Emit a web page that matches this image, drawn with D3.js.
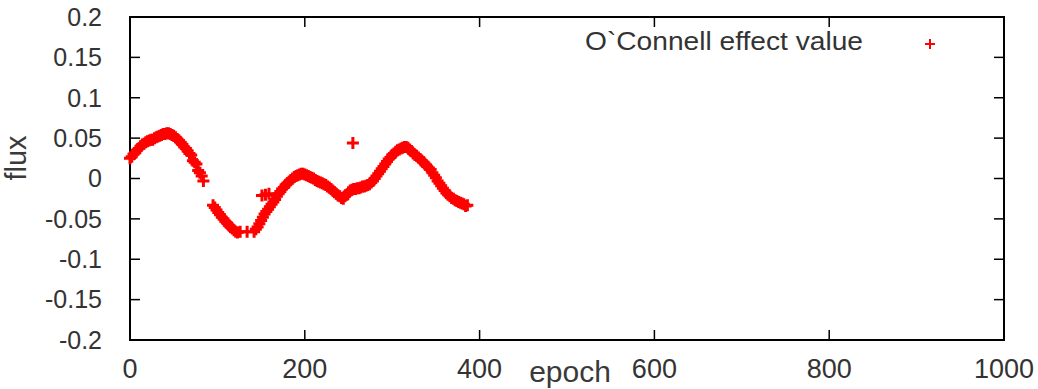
<!DOCTYPE html>
<html><head><meta charset="utf-8">
<script src="https://cdn.jsdelivr.net/npm/d3@7"></script>
<style>body{margin:0;background:#fff}svg{display:block}text{font-family:"Liberation Sans",Arial,sans-serif}</style>
</head><body><svg id="c" width="1038" height="389"></svg>
<script>
const xTicks = [0, 200, 400, 600, 800, 1000];
const yTicks = [0.2, 0.15, 0.1, 0.05, 0, -0.05, -0.1, -0.15, -0.2];
const yTickLabels = ["0.2", "0.15", "0.1", "0.05", "0", "-0.05", "-0.1", "-0.15", "-0.2"];
const seriesName = "O`Connell effect value";
const epoch = [
 0,2,4,6,8,10,12,14,16,18,20,22,24,26,28,30,32,34,36,38,40,42,44,46,48,50,52,54,56,58,60,62,64,66,68,70,72,74,76,78,80,82,84,
 95,97,99,101,103,105,107,109,111,113,115,117,119,121,123,126,134,142,
 144,146,148,150,151,152,154,155,156,158,159,160,162,164,166,168,170,172,174,176,178,180,182,184,186,188,190,192,194,196,198,
 200,202,204,206,208,210,212,214,216,218,220,222,224,226,228,230,232,234,236,238,240,242,244,246,248,250,252,254,255,256,258,
 260,262,264,266,268,270,272,274,276,278,280,282,284,286,288,290,292,294,296,298,300,302,304,306,308,310,312,314,316,318,
 320,322,324,326,328,330,332,334,336,338,340,342,344,346,348,350,352,354,356,358,360,362,364,366,368,370,372,374,376,378,380,382,384,386
];
const flux = [
 0.025,0.027,0.030,0.032,0.035,0.037,0.040,0.042,0.043,0.045,0.046,0.047,0.048,0.048,0.050,0.051,0.052,0.053,0.054,0.055,0.055,0.056,0.056,0.055,0.054,0.053,0.051,0.049,0.047,0.045,0.042,0.039,0.037,0.034,0.031,0.029,0.022,0.020,0.018,0.010,0.007,0.003,-0.003,
 -0.033,-0.036,-0.039,-0.042,-0.045,-0.048,-0.050,-0.053,-0.055,-0.058,-0.060,-0.062,-0.064,-0.066,-0.067,-0.066,-0.066,-0.066,
 -0.063,-0.060,-0.056,-0.052,-0.021,-0.048,-0.044,-0.020,-0.041,-0.038,-0.019,-0.035,-0.032,-0.029,-0.026,-0.022,-0.019,-0.016,-0.013,-0.011,-0.008,-0.006,-0.004,-0.002,0.000,0.002,0.003,0.004,0.005,0.006,0.006,
 0.005,0.004,0.003,0.002,0.001,0.000,-0.002,-0.003,-0.004,-0.005,-0.006,-0.007,-0.008,-0.010,-0.011,-0.013,-0.015,-0.017,-0.019,-0.021,-0.022,-0.024,-0.025,-0.022,-0.020,-0.017,-0.015,-0.014,0.044,-0.013,-0.013,
 -0.012,-0.012,-0.011,-0.010,-0.010,-0.009,-0.008,-0.007,-0.005,-0.003,0.000,0.003,0.006,0.009,0.012,0.015,0.018,0.021,0.024,0.026,0.029,0.031,0.033,0.035,0.036,0.037,0.038,0.039,0.039,0.038,
 0.036,0.034,0.031,0.029,0.028,0.026,0.024,0.022,0.020,0.017,0.015,0.013,0.011,0.007,0.004,0.001,-0.003,-0.006,-0.009,-0.012,-0.015,-0.018,-0.020,-0.022,-0.024,-0.025,-0.027,-0.028,-0.029,-0.030,-0.031,-0.032,-0.034,-0.033
];

const svg = d3.select("#c");
const L = 130, R = 1004, T = 17, B = 340;
const x = d3.scaleLinear().domain([0, 1000]).range([L, R]);
const y = d3.scaleLinear().domain([-0.2, 0.2]).range([B, T]);
const tickLen = 10;

// ticks (all four sides, inward)
const g = svg.append("g").attr("stroke", "#000").attr("stroke-width", 1.5);
xTicks.forEach(v => {
  g.append("line").attr("x1", x(v)).attr("x2", x(v)).attr("y1", B).attr("y2", B - tickLen);
  g.append("line").attr("x1", x(v)).attr("x2", x(v)).attr("y1", T).attr("y2", T + tickLen);
});
yTicks.forEach(v => {
  g.append("line").attr("x1", L).attr("x2", L + tickLen).attr("y1", y(v)).attr("y2", y(v));
  g.append("line").attr("x1", R).attr("x2", R - tickLen).attr("y1", y(v)).attr("y2", y(v));
});
svg.append("rect").attr("x", L).attr("y", T).attr("width", R - L).attr("height", B - T)
  .attr("fill", "none").attr("stroke", "#000").attr("stroke-width", 2);

// tick labels
svg.append("g").selectAll("text").data(xTicks).join("text")
  .attr("x", d => x(d)).attr("y", 378).attr("text-anchor", "middle")
  .attr("font-size", 27).attr("fill", "#333").text(d => d);
svg.append("g").selectAll("text").data(yTicks).join("text")
  .attr("x", 102).attr("y", d => y(d)).attr("dy", "0.35em").attr("text-anchor", "end")
  .attr("font-size", 25).attr("fill", "#333").text((d, i) => yTickLabels[i]);

// axis titles
svg.append("text").attr("x", 570).attr("y", 382).attr("text-anchor", "middle")
  .attr("font-size", 30).attr("fill", "#3a3a3a").text("epoch");
svg.append("text").attr("transform", "translate(26,158) rotate(-90)").attr("text-anchor", "middle")
  .attr("font-size", 29).attr("fill", "#3a3a3a").text("flux");

// data markers
const pts = epoch.map((e, i) => [e, flux[i]]);
const hs = 6;
svg.append("g").attr("stroke", "#ff0000").attr("stroke-width", 3).selectAll("path").data(pts).join("path")
  .attr("d", d => `M${x(d[0]) - hs},${y(d[1])}h${2 * hs}M${x(d[0])},${y(d[1]) - hs}v${2 * hs}`);

// legend
svg.append("text").attr("x", 585).attr("y", 50).attr("font-size", 25).attr("fill", "#333")
  .attr("textLength", 278).attr("lengthAdjust", "spacingAndGlyphs").text(seriesName);
svg.append("path").attr("stroke", "#ff0000").attr("stroke-width", 2)
  .attr("d", `M${930 - 5},44h10M930,${44 - 5}v10`);
</script></body></html>
